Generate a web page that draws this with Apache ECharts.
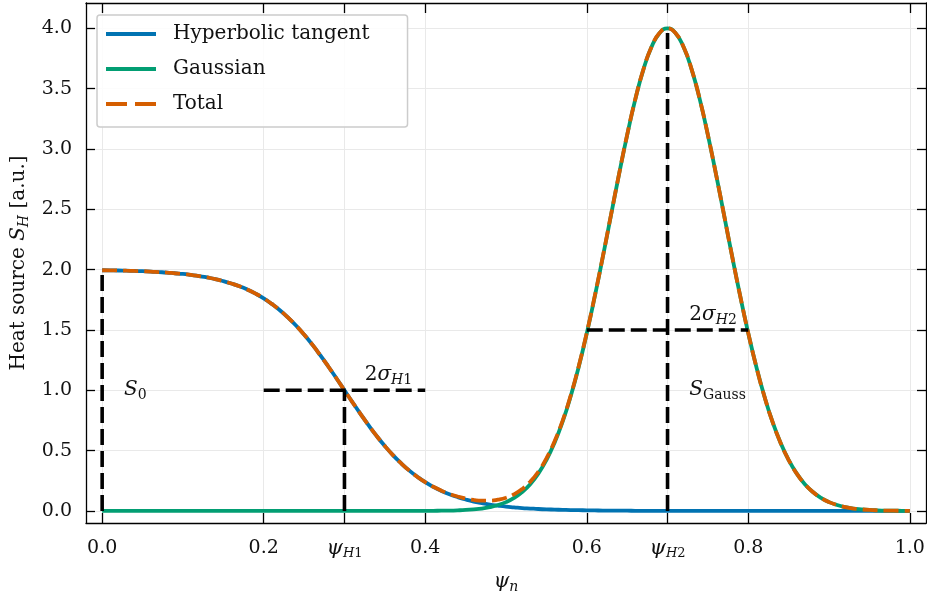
<!DOCTYPE html>
<html>
<head>
<meta charset="utf-8">
<script src="https://cdn.jsdelivr.net/npm/echarts@6/dist/echarts.min.js"></script>
<style>
  html, body { margin: 0; padding: 0; background: #fff; }
  #chart { width: 927px; height: 594px; }
</style>
</head>
<body>
<div id="chart"></div>
<script>
// Normalised flux coordinate samples
const psi = [
  0.00, 0.01, 0.02, 0.03, 0.04, 0.05, 0.06, 0.07, 0.08, 0.09,
  0.10, 0.11, 0.12, 0.13, 0.14, 0.15, 0.16, 0.17, 0.18, 0.19,
  0.20, 0.21, 0.22, 0.23, 0.24, 0.25, 0.26, 0.27, 0.28, 0.29,
  0.30, 0.31, 0.32, 0.33, 0.34, 0.35, 0.36, 0.37, 0.38, 0.39,
  0.40, 0.41, 0.42, 0.43, 0.44, 0.45, 0.46, 0.47, 0.48, 0.49,
  0.50, 0.51, 0.52, 0.53, 0.54, 0.55, 0.56, 0.57, 0.58, 0.59,
  0.60, 0.61, 0.62, 0.63, 0.64, 0.65, 0.66, 0.67, 0.68, 0.69,
  0.70, 0.71, 0.72, 0.73, 0.74, 0.75, 0.76, 0.77, 0.78, 0.79,
  0.80, 0.81, 0.82, 0.83, 0.84, 0.85, 0.86, 0.87, 0.88, 0.89,
  0.90, 0.91, 0.92, 0.93, 0.94, 0.95, 0.96, 0.97, 0.98, 0.99,
  1.00
];

// Hyperbolic tangent component of the heat source
const tanhSource = [
  1.995, 1.994, 1.993, 1.991, 1.989, 1.987, 1.984, 1.980, 1.976, 1.970,
  1.964, 1.956, 1.947, 1.935, 1.922, 1.905, 1.885, 1.862, 1.834, 1.801,
  1.762, 1.716, 1.664, 1.604, 1.537, 1.462, 1.380, 1.291, 1.197, 1.100,
  1.000, 0.900, 0.803, 0.709, 0.620, 0.538, 0.463, 0.396, 0.336, 0.284,
  0.238, 0.199, 0.166, 0.138, 0.115, 0.095, 0.078, 0.065, 0.053, 0.044,
  0.036, 0.030, 0.024, 0.020, 0.016, 0.013, 0.011, 0.009, 0.007, 0.006,
  0.005, 0.004, 0.003, 0.003, 0.002, 0.002, 0.001, 0.001, 0.001, 0.001,
  0.001, 0.000, 0.000, 0.000, 0.000, 0.000, 0.000, 0.000, 0.000, 0.000,
  0.000, 0.000, 0.000, 0.000, 0.000, 0.000, 0.000, 0.000, 0.000, 0.000,
  0.000, 0.000, 0.000, 0.000, 0.000, 0.000, 0.000, 0.000, 0.000, 0.000,
  0.000
];

// Gaussian component of the heat source
const gaussSource = [
  0.000, 0.000, 0.000, 0.000, 0.000, 0.000, 0.000, 0.000, 0.000, 0.000,
  0.000, 0.000, 0.000, 0.000, 0.000, 0.000, 0.000, 0.000, 0.000, 0.000,
  0.000, 0.000, 0.000, 0.000, 0.000, 0.000, 0.000, 0.000, 0.000, 0.000,
  0.000, 0.000, 0.000, 0.000, 0.000, 0.000, 0.000, 0.000, 0.000, 0.000,
  0.000, 0.001, 0.002, 0.003, 0.005, 0.008, 0.013, 0.020, 0.032, 0.049,
  0.073, 0.108, 0.157, 0.222, 0.309, 0.422, 0.564, 0.738, 0.948, 1.193,
  1.472, 1.780, 2.109, 2.451, 2.791, 3.115, 3.409, 3.656, 3.843, 3.960,
  4.000, 3.960, 3.843, 3.656, 3.409, 3.115, 2.791, 2.451, 2.109, 1.780,
  1.472, 1.193, 0.948, 0.738, 0.564, 0.422, 0.309, 0.222, 0.157, 0.108,
  0.073, 0.049, 0.032, 0.020, 0.013, 0.008, 0.005, 0.003, 0.002, 0.001,
  0.000
];

// Total heat source
const totalSource = [
  1.995, 1.994, 1.993, 1.991, 1.989, 1.987, 1.984, 1.980, 1.976, 1.970,
  1.964, 1.956, 1.947, 1.935, 1.922, 1.905, 1.885, 1.862, 1.834, 1.801,
  1.762, 1.716, 1.664, 1.604, 1.537, 1.462, 1.380, 1.291, 1.197, 1.100,
  1.000, 0.900, 0.803, 0.709, 0.620, 0.538, 0.463, 0.396, 0.336, 0.284,
  0.238, 0.200, 0.168, 0.141, 0.120, 0.103, 0.091, 0.085, 0.085, 0.093,
  0.109, 0.138, 0.181, 0.242, 0.325, 0.435, 0.575, 0.747, 0.955, 1.199,
  1.477, 1.784, 2.112, 2.454, 2.793, 3.117, 3.410, 3.657, 3.844, 3.961,
  4.001, 3.960, 3.843, 3.656, 3.409, 3.115, 2.791, 2.451, 2.109, 1.780,
  1.472, 1.193, 0.948, 0.738, 0.564, 0.422, 0.309, 0.222, 0.157, 0.108,
  0.073, 0.049, 0.032, 0.020, 0.013, 0.008, 0.005, 0.003, 0.002, 0.001,
  0.000
];

// Tick positions
const xTicks = [0.0, 0.2, 0.3, 0.4, 0.6, 0.7, 0.8, 1.0];
const yTicks = [0.0, 0.5, 1.0, 1.5, 2.0, 2.5, 3.0, 3.5, 4.0];

// Parameter guide segments: S0, 2σ_H1 width, ψ_H1, 2σ_H2 width, ψ_H2
const guideSegments = [
  [[0.0, 0.0], [0.0, 2.0]],
  [[0.2, 1.0], [0.4, 1.0]],
  [[0.3, 0.0], [0.3, 1.0]],
  [[0.6, 1.5], [0.8, 1.5]],
  [[0.7, 0.0], [0.7, 4.0]]
];

// Parameter annotations (rich text) and their anchors in data units
const noteTexts = ['{i|S}{sub|0}', '{n|2}{i|σ}{subi|H}{sub|1}', '{n|2}{i|σ}{subi|H}{sub|2}', '{i|S}{sub|Gauss}'];
const noteAnchors = [[0.027, 1.0], [0.325, 1.127], [0.727, 1.624], [0.727, 1.0]];

const FONT = 'DejaVu Serif';
const INK = '#111';

function mathStyles(fs, ifs) {
  const sfs = Math.round(fs * 0.7);
  return {
    i:    { fontFamily: FONT, fontStyle: 'italic', fontSize: ifs, color: INK, lineHeight: fs + 4 },
    n:    { fontFamily: FONT, fontSize: fs, color: INK, lineHeight: fs + 4 },
    sub:  { fontFamily: FONT, fontSize: sfs, color: INK, lineHeight: sfs - 4, verticalAlign: 'bottom' },
    subi: { fontFamily: FONT, fontStyle: 'italic', fontSize: sfs, color: INK, lineHeight: sfs - 4, verticalAlign: 'bottom' }
  };
}
const richTick = mathStyles(19, 21);
const richText = mathStyles(20, 20);

const BLUE = '#0173b2', GREEN = '#029e73', ORANGE = '#d55e00';
const FRAME = { color: '#000', width: 1.3 };

// Legend glyphs: solid bar, and two dashes for the total
const ICON_SOLID = 'path://M0,0H50V4H0Z';
const ICON_DASH = 'path://M0,0H21V4H0Z M29,0H50V4H29Z';

function xLabel(v) {
  if (Math.abs(v - 0.3) < 1e-6) return '{i|ψ}{subi|H}{sub|1}';
  if (Math.abs(v - 0.7) < 1e-6) return '{i|ψ}{subi|H}{sub|2}';
  return '{n|' + v.toFixed(1) + '}';
}

const series = [
  {
    name: 'Hyperbolic tangent', type: 'line', smooth: true, symbol: 'none',
    data: psi.map((x, k) => [x, tanhSource[k]]),
    lineStyle: { color: BLUE, width: 3.8 }, itemStyle: { color: BLUE }, z: 2
  },
  {
    name: 'Gaussian', type: 'line', smooth: true, symbol: 'none',
    data: psi.map((x, k) => [x, gaussSource[k]]),
    lineStyle: { color: GREEN, width: 3.8 }, itemStyle: { color: GREEN }, z: 2
  },
  {
    name: 'Total', type: 'line', smooth: true, symbol: 'none',
    data: psi.map((x, k) => [x, totalSource[k]]),
    lineStyle: { color: ORANGE, width: 3.8, type: [15, 6] }, itemStyle: { color: ORANGE }, z: 3
  }
];

guideSegments.forEach((seg) => {
  series.push({
    type: 'line', symbol: 'none', silent: true, z: 4,
    data: seg,
    lineStyle: { color: '#000', width: 3.6, type: [16, 6] }
  });
});

series.push({
  type: 'scatter', symbolSize: 0, silent: true, z: 5,
  itemStyle: { opacity: 1 },
  data: noteAnchors.map((p, k) => ({ value: p, label: { formatter: noteTexts[k] } })),
  label: { show: true, position: 'right', distance: 0, opacity: 1, rich: richText }
});

const chart = echarts.init(document.getElementById('chart'), null, { renderer: 'canvas' });
chart.setOption({
  animation: false,
  backgroundColor: '#fff',
  textStyle: { fontFamily: FONT },
  grid: { left: 86, right: 1, top: 3, bottom: 71, containLabel: false, outerBoundsMode: 'none' },
  legend: {
    data: [
      { name: 'Hyperbolic tangent', icon: ICON_SOLID, itemStyle: { color: BLUE } },
      { name: 'Gaussian', icon: ICON_SOLID, itemStyle: { color: GREEN } },
      { name: 'Total', icon: ICON_DASH, itemStyle: { color: ORANGE } }
    ],
    orient: 'vertical', left: 97, top: 15,
    itemWidth: 50, itemHeight: 4, itemGap: 11,
    padding: [7, 38, 11, 9],
    backgroundColor: 'rgba(255,255,255,0.85)',
    borderColor: '#cccccc', borderWidth: 1.5, borderRadius: 3,
    textStyle: { fontFamily: FONT, fontSize: 20, color: INK, lineHeight: 24, padding: [0, 0, 0, 12] }
  },
  xAxis: [
    {
      type: 'value', min: -0.02, max: 1.02, position: 'bottom',
      axisLine: { onZero: false, lineStyle: FRAME },
      axisTick: { inside: true, length: 10, customValues: xTicks, lineStyle: FRAME },
      axisLabel: { customValues: xTicks, formatter: xLabel, margin: 14, rich: richTick },
      splitLine: { show: true, lineStyle: { color: '#e9e9e9', width: 1 } },
      name: '{i|ψ}{subi|n}', nameLocation: 'middle', nameGap: 47,
      nameTextStyle: { rich: richText }
    },
    {
      type: 'value', min: -0.02, max: 1.02, position: 'top',
      axisLine: { onZero: false, lineStyle: FRAME },
      axisTick: { inside: true, length: 10, customValues: xTicks, lineStyle: FRAME },
      axisLabel: { show: false },
      splitLine: { show: false }
    }
  ],
  yAxis: [
    {
      type: 'value', min: -0.1, max: 4.21, position: 'left',
      axisLine: { onZero: false, lineStyle: FRAME },
      axisTick: { inside: true, length: 9, customValues: yTicks, lineStyle: FRAME },
      axisLabel: { customValues: yTicks, formatter: (v) => '{n|' + v.toFixed(1) + '}', margin: 14, rich: richTick },
      splitLine: { show: true, lineStyle: { color: '#e9e9e9', width: 1 } },
      name: '{n|Heat source }{i|S}{subi|H}{n| [a.u.]}', nameLocation: 'middle', nameGap: 53,
      nameRotate: 90,
      nameTextStyle: { rich: richText }
    },
    {
      type: 'value', min: -0.1, max: 4.21, position: 'right',
      axisLine: { onZero: false, lineStyle: FRAME },
      axisTick: { inside: true, length: 9, customValues: yTicks, lineStyle: FRAME },
      axisLabel: { show: false },
      splitLine: { show: false }
    }
  ],
  series: series
});
</script>
</body>
</html>
